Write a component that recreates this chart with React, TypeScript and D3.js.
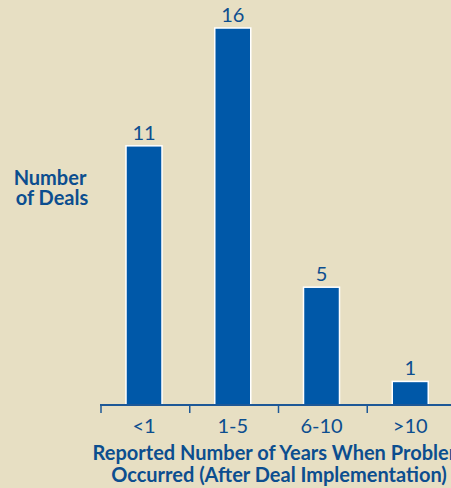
import React from "react";
import * as d3 from "d3";

const categories = ["<1", "1-5", "6-10", ">10"];
const values = [11, 16, 5, 1];
const yLabelLines = ["Number", "of Deals"];
const xLabelLines = ["Reported Number of Years When Problem", "Occurred (After Deal Implementation)"];

const W = 451;
const H = 488;
const BG = "#e7dfc3";
const BAR = "#0058a8";
const TEXT = "#0c4e8f";
const AXIS = "#1d5897";
const FONT = "Lato, 'Open Sans', sans-serif";

export default function App() {
  const x = d3.scaleBand<string>().domain(categories).range([103, 458]);
  const y = d3.scaleLinear().domain([0, 16]).range([405, 28]);
  const barW = 36;
  const barOff = 23;
  return (
    <div style={{ position: "fixed", left: 0, top: 0 }}>
      <svg width={W} height={H} style={{ display: "block" }}>
        <rect x={0} y={0} width={W} height={H} fill={BG} />
        {categories.map((c, i) => (
          <g key={c}>
            <rect
              x={(x(c) as number) + barOff}
              y={y(values[i])}
              width={barW}
              height={y(0) - y(values[i])}
              fill={BAR}
              stroke="#ffffff"
              strokeWidth={1.5}
            />
            <text
              x={(x(c) as number) + barOff + barW / 2}
              y={y(values[i]) - 6}
              textAnchor="middle"
              fontFamily={FONT}
              fontSize={20}
              fill={TEXT}
            >
              {values[i]}
            </text>
            <line
              x1={(x(c) as number) - 2}
              x2={(x(c) as number) - 2}
              y1={y(0)}
              y2={y(0) + 8}
              stroke={AXIS}
              strokeWidth={1.5}
            />
            <text
              x={(x(c) as number) + barOff + barW / 2}
              y={433}
              textAnchor="middle"
              fontFamily={FONT}
              fontSize={20}
              fill={TEXT}
            >
              {c}
            </text>
          </g>
        ))}
        <line x1={100} x2={W} y1={y(0)} y2={y(0)} stroke={AXIS} strokeWidth={2} />
        <text
          textAnchor="middle"
          fontFamily={FONT}
          fontWeight="bold"
          fontSize={20}
          fill={TEXT}
        >
          {yLabelLines.map((t, i) => (
            <tspan key={t} x={50 + i * 2} y={185 + i * 20}>
              {t}
            </tspan>
          ))}
        </text>
        <text
          textAnchor="middle"
          fontFamily={FONT}
          fontWeight="bold"
          fontSize={20}
          fill={TEXT}
        >
          {xLabelLines.map((t, i) => (
            <tspan key={t} x={279} y={460 + i * 22}>
              {t}
            </tspan>
          ))}
        </text>
      </svg>
    </div>
  );
}
